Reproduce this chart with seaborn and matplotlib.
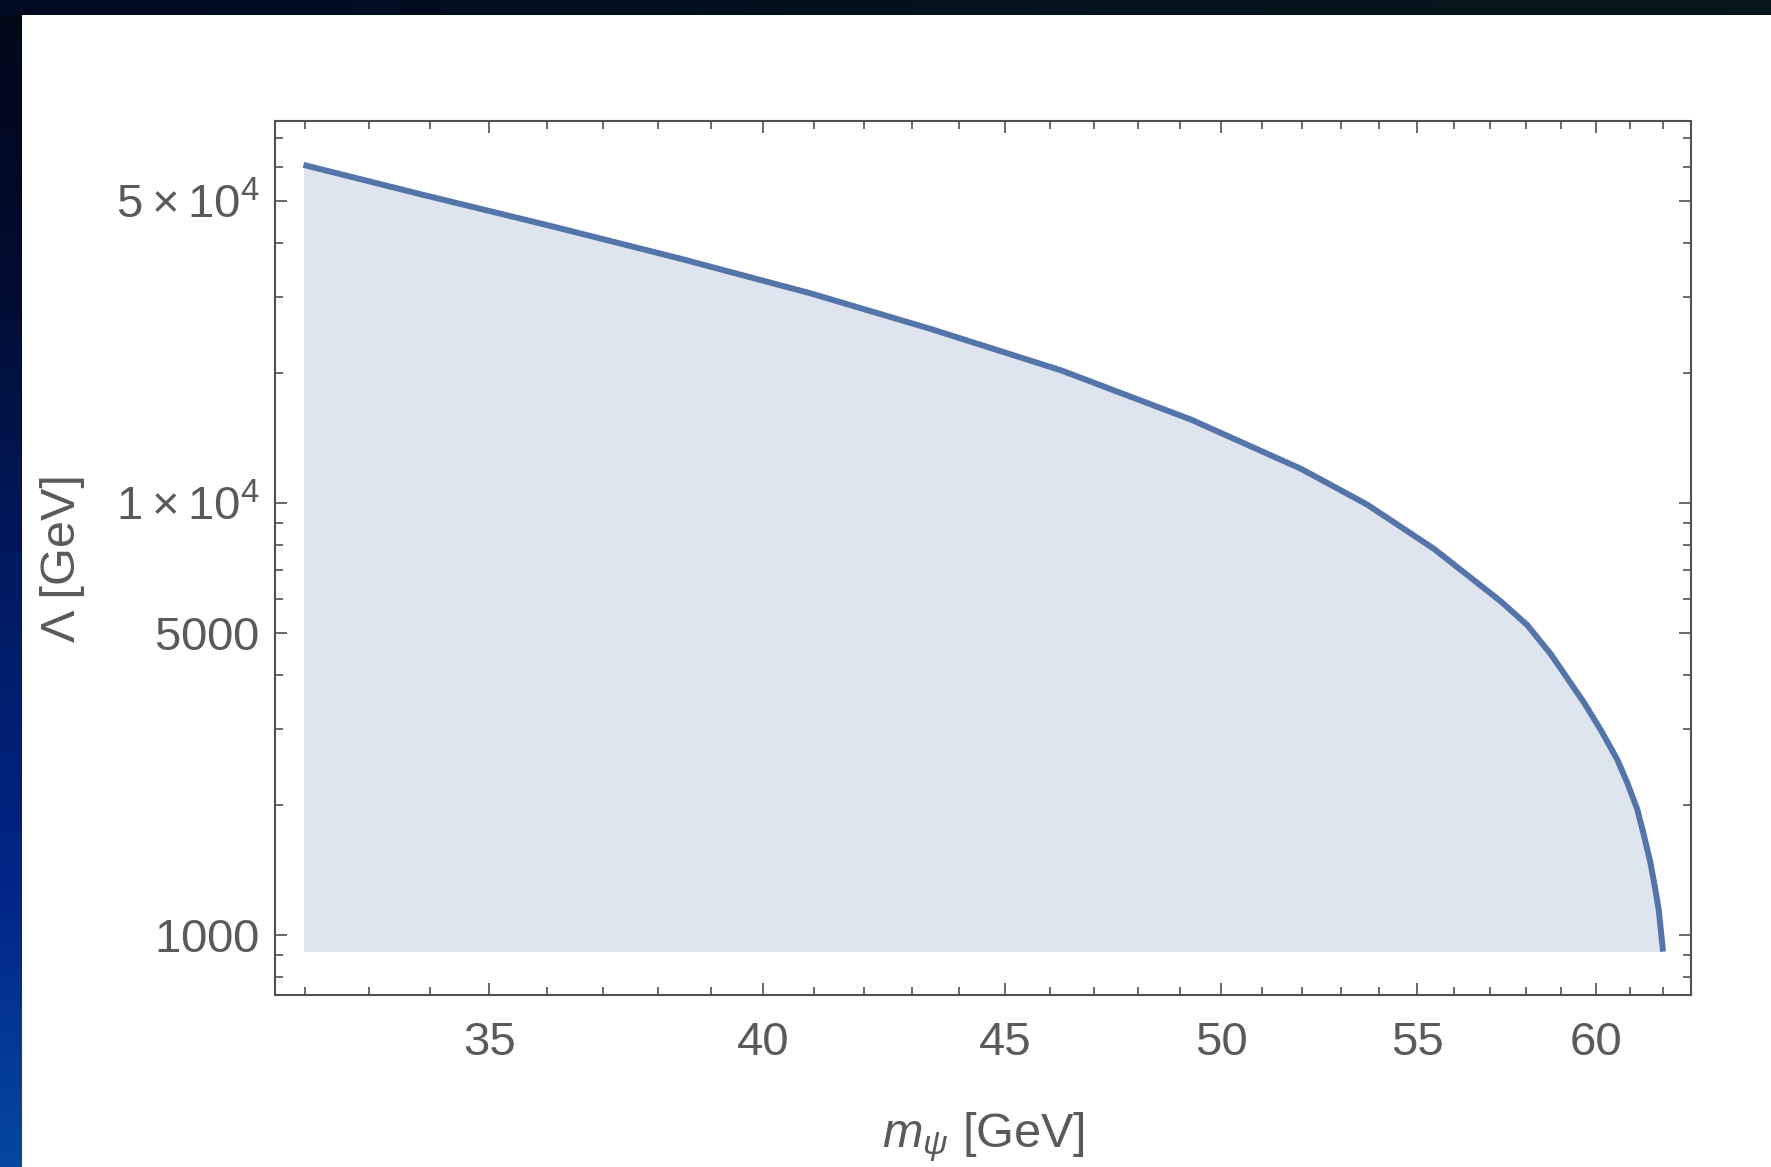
import numpy as np
import pandas as pd
import matplotlib
matplotlib.use("Agg")
import matplotlib.pyplot as plt
import matplotlib.ticker as mticker
from matplotlib.patches import Rectangle
import seaborn as sns

# ---------------- data ----------------
m_psi = [31.97, 33.85, 36.07, 38.42, 40.93, 43.40, 46.24, 49.27, 51.98,
         53.68, 55.45, 57.28, 58.03, 58.70, 59.66, 60.14, 60.63, 60.93,
         61.23, 61.42, 61.62, 61.77, 61.87, 62.00]
lam = [60700, 51900, 43800, 36800, 30600, 25300, 20300, 15600, 12000,
       9920, 7840, 5930, 5220, 4470, 3450, 2990, 2550, 2250,
       1950, 1707, 1470, 1272, 1143, 915]

x_major = [35, 40, 45, 50, 55, 60]
x_major_labels = ["35", "40", "45", "50", "55", "60"]
x_minor = list(range(32, 63))
y_major = [1000, 5000, 10000, 50000]
y_major_labels = [r"$\mathrm{1000}$", r"$\mathrm{5000}$",
                  r"$\mathrm{1\:\times\:10^{4}}$", r"$\mathrm{5\:\times\:10^{4}}$"]
y_minor = [800, 900, 2000, 3000, 4000, 6000, 7000, 8000, 9000,
           20000, 30000, 40000, 60000, 70000]
x_limits = (31.53, 62.85)
y_limits = (726, 76700)
x_label = r"$m_{\psi}$ [GeV]"
y_label = "Λ [GeV]"

df = pd.DataFrame({"m": m_psi, "L": lam})

# ---------------- style ----------------
sns.set_theme(style="ticks")
plt.rcParams["font.family"] = ["Liberation Sans", "DejaVu Sans"]
plt.rcParams["mathtext.fontset"] = "custom"
plt.rcParams["mathtext.rm"] = "Liberation Sans"
plt.rcParams["mathtext.it"] = "Liberation Sans:italic"
plt.rcParams["mathtext.bf"] = "Liberation Sans:bold"

W, H = 1771, 1167
fig = plt.figure(figsize=(W / 100, H / 100), dpi=100, facecolor="white")

# background: dark slide border (left + top) and white panel
bg = fig.add_axes([0, 0, 1, 1], zorder=-10)
bg.set_axis_off()
bg.set_xlim(0, W)
bg.set_ylim(H, 0)
stops = np.array([[0.01, 0.03, 0.09], [0.00, 0.05, 0.20], [0.00, 0.10, 0.38],
                  [0.00, 0.14, 0.52], [0.02, 0.28, 0.62]])
t = np.linspace(0, 1, 400)
pos = np.linspace(0, 1, len(stops))
col = np.stack([np.interp(t, pos, stops[:, k]) for k in range(3)], axis=1)
bg.imshow(col[:, None, :], extent=(0, 24, H, 0), aspect="auto", interpolation="bilinear")
tstops = np.array([[0.00, 0.04, 0.13], [0.01, 0.07, 0.12], [0.02, 0.09, 0.11]])
tt = np.linspace(0, 1, 400)
tpos = np.linspace(0, 1, len(tstops))
tcol = np.stack([np.interp(tt, tpos, tstops[:, k]) for k in range(3)], axis=1)
bg.imshow(tcol[None, :, :], extent=(0, W, 15, 0), aspect="auto", interpolation="bilinear")
bg.add_patch(Rectangle((22, 15), W - 22, H - 15, facecolor="white", edgecolor="none"))

# main axes
ax = fig.add_axes([275 / W, 1 - 995 / H, 1416 / W, 874 / H])
ax.set_facecolor("white")

line_color = "#5474aa"
fill_color = "#dee5ef"

ax.fill_between(df["m"], df["L"], df["L"].min(), color=fill_color, linewidth=0, zorder=1)
sns.lineplot(data=df, x="m", y="L", ax=ax, color=line_color, linewidth=4.3,
             solid_capstyle="butt", solid_joinstyle="round", sort=False, zorder=3)

ax.set_xscale("log")
ax.set_yscale("log")
ax.set_xlim(*x_limits)
ax.set_ylim(*y_limits)

ax.xaxis.set_major_locator(mticker.FixedLocator(x_major))
ax.xaxis.set_major_formatter(mticker.FixedFormatter(x_major_labels))
ax.xaxis.set_minor_locator(mticker.FixedLocator(x_minor))
ax.xaxis.set_minor_formatter(mticker.NullFormatter())
ax.yaxis.set_major_locator(mticker.FixedLocator(y_major))
ax.yaxis.set_major_formatter(mticker.FixedFormatter(y_major_labels))
ax.yaxis.set_minor_locator(mticker.FixedLocator(y_minor))
ax.yaxis.set_minor_formatter(mticker.NullFormatter())

text_color = "#5a5a5a"
frame_color = "#505050"
ax.tick_params(which="both", direction="in", top=True, right=True,
               labeltop=False, labelright=False, color=frame_color,
               labelcolor=text_color, labelsize=34)
ax.tick_params(which="major", length=8.6, width=1.2)
ax.tick_params(which="minor", length=5.8, width=1.2)
ax.tick_params(axis="x", which="both", pad=19)
ax.tick_params(axis="y", which="both", pad=11)
for s in ax.spines.values():
    s.set_visible(True)
    s.set_color(frame_color)
    s.set_linewidth(1.5)

ax.set_xlabel(x_label, fontsize=35, color=text_color, labelpad=32)
ax.set_ylabel(y_label, fontsize=35, color=text_color, labelpad=22)

fig.savefig("out.png", dpi=100, facecolor=fig.get_facecolor())
